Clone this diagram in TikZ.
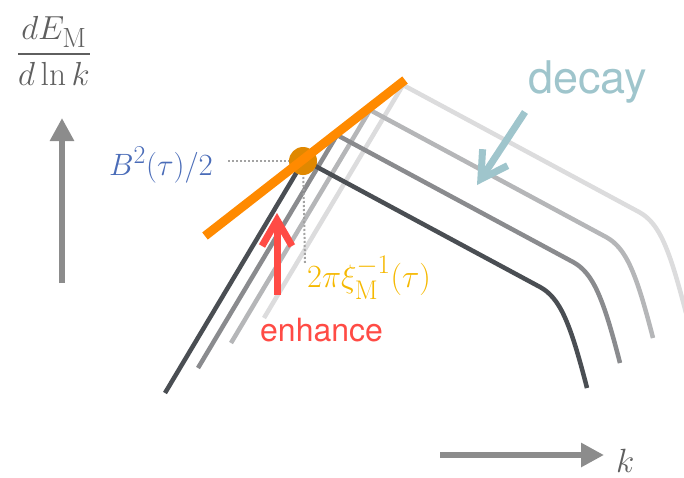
\documentclass[tikz,border=0pt]{standalone}
\usepackage{amsmath}
\usepackage{graphicx}
\usepackage{fontspec}
\setsansfont{TeX Gyre Heros}
\usetikzlibrary{arrows.meta}

\definecolor{axisgray}{HTML}{8C8C8C}
\definecolor{labelgray}{HTML}{5F5F5F}
\definecolor{specA}{HTML}{4A4E53}
\definecolor{specB}{HTML}{8A8B8E}
\definecolor{specC}{HTML}{B5B6B8}
\definecolor{specD}{HTML}{DCDCDD}
\definecolor{tangent}{HTML}{FF8A00}
\definecolor{peakdot}{HTML}{E08800}
\definecolor{ampblue}{HTML}{4A6CB8}
\definecolor{scaleyellow}{HTML}{F5B800}
\definecolor{enhred}{HTML}{FF4B45}
\definecolor{decayteal}{HTML}{9FC5CC}

\tikzset{
  axisarrow/.style={line width=6pt,axisgray,-{Triangle[length=23pt,width=23pt]}},
  barbarrow/.style={line width=7pt,-{Straight Barb[length=26pt,width=30pt]}},
  spectrum/.style={line width=4.5pt,line join=round},
  guide/.style={line width=2pt,axisgray!80,dash pattern=on 2pt off 2pt},
  mathlabel/.style={inner sep=0pt,font=\Huge}
}

\begin{document}
\begin{tikzpicture}[x=1pt,y=-1pt]
\useasboundingbox (0,0) rectangle (684,477);

%--------------------
% spectra at successive times
%--------------------
\foreach \i/\c in {3/specD,2/specC,1/specB,0/specA}{
  \draw[spectrum,\c,shift={(33*\i,-25*\i)}]
    (165,393) -- (304,160) -- (540,287)
    .. controls (560,298) and (570,322) .. (587,388);
}

% peak and guide lines
\coordinate (P) at (303,161);
\draw[guide] (228,161) -- (P);
\draw[guide] (P) -- (305,263);
\fill[peakdot] (P) circle (14pt);

% envelope of the peaks
\draw[line width=9pt,tangent] (205,236) -- (405,80);

% axes
\coordinate (ybot) at (62,283);
\coordinate (ytop) at (62,118);
\draw[axisarrow] (ybot) -- (ytop);
\coordinate (xleft) at (440,455);
\coordinate (xright) at (604,455);
\draw[axisarrow] (xleft) -- (xright);

\node[mathlabel,labelgray] (ylab) at (54,51)
  {\scalebox{1.34}{$\dfrac{dE_\mathrm{M}}{d\ln k}$}};
\node[mathlabel,labelgray,anchor=base west] (xlab)
  at (616,472) {\scalebox{1.35}{$k$}};

% labels at the peak
\node[mathlabel,ampblue,anchor=base east] (amp)
  at (213,175) {\scalebox{1.24}{$B^2(\tau)/2$}};
\node[mathlabel,scaleyellow,anchor=base west] (scale)
  at (307,287) {\scalebox{1.3}{$2\pi\xi_\mathrm{M}^{-1}(\tau)$}};

% enhance
\coordinate (etail) at (277,295);
\coordinate (etip) at (277,213);
\draw[barbarrow,enhred] (etail) -- (etip);
\node[enhred,inner sep=0pt,anchor=base west,font=\sffamily\fontsize{32}{38}\selectfont]
  (enh) at (260,341) {enhance};

% decay
\coordinate (dtail) at (525,112);
\coordinate (dtip) at (477,185);
\draw[barbarrow,decayteal] (dtail) -- (dtip);
\node[decayteal,inner sep=0pt,anchor=base west,font=\sffamily\fontsize{45}{52}\selectfont]
  (dec) at (528,93) {decay};

\end{tikzpicture}
\end{document}
